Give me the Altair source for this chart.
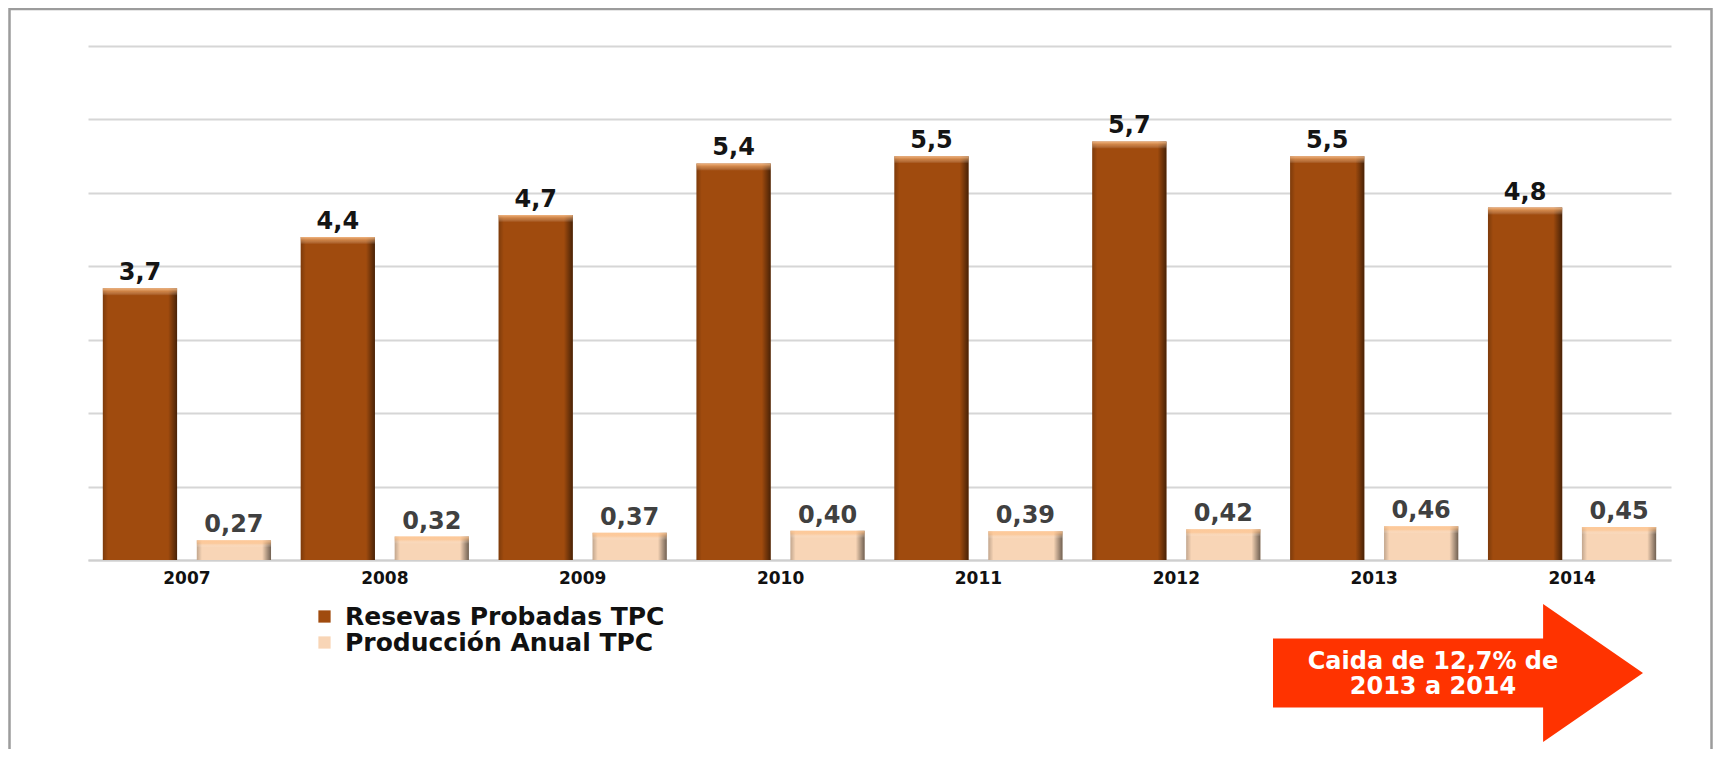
import altair as alt
import pandas as pd

# ---- data ----
years = ["2007", "2008", "2009", "2010", "2011", "2012", "2013", "2014"]
reservas = [3.7, 4.4, 4.7, 5.4, 5.5, 5.7, 5.5, 4.8]
produccion = [0.27, 0.32, 0.37, 0.40, 0.39, 0.42, 0.46, 0.45]
series_names = ["Resevas Probadas TPC", "Producción Anual TPC"]
y_ticks = [0, 1, 2, 3, 4, 5, 6, 7]
annotation_lines = ["Caida de 12,7% de", "2013 a 2014"]

rows = []
for yr, r, p in zip(years, reservas, produccion):
    rows.append({"year": yr, "series": series_names[0], "value": r,
                 "label": f"{r:.1f}".replace(".", ",")})
    rows.append({"year": yr, "series": series_names[1], "value": p,
                 "label": f"{p:.2f}".replace(".", ",")})
df = pd.DataFrame(rows)

FONT = "DejaVu Sans"

x_enc = alt.X(
    "year:N",
    sort=years,
    scale=alt.Scale(paddingInner=0.15, paddingOuter=0.075),
    axis=alt.Axis(
        title=None, labelAngle=0, labelFont=FONT, labelFontWeight="bold",
        labelFontSize=17, labelColor="#111111", labelPadding=10,
        ticks=False, domainColor="#CFCFCF", domainWidth=2,
    ),
)
xoff_enc = alt.XOffset(
    "series:N",
    sort=series_names,
    scale=alt.Scale(domain=series_names, paddingInner=0.21, paddingOuter=0),
)
y_enc = alt.Y(
    "value:Q",
    scale=alt.Scale(domain=[0, 7], nice=False, zero=True),
    axis=alt.Axis(
        title=None, labels=False, ticks=False, domain=False, values=y_ticks,
        gridColor="#D6D6D6", gridWidth=2,
    ),
)

base = alt.Chart(df)

bars = base.mark_bar().encode(
    x=x_enc,
    xOffset=xoff_enc,
    y=y_enc,
    color=alt.Color(
        "series:N",
        sort=series_names,
        scale=alt.Scale(domain=series_names, range=["#A04B0E", "#F8D5B6"]),
        legend=alt.Legend(
            title=None, orient="none", legendX=224, legendY=558,
            direction="vertical", symbolType="square", symbolSize=150,
            symbolStrokeWidth=0, labelFont=FONT, labelFontWeight="bold",
            labelFontSize=25, labelColor="#111111", rowPadding=0,
            labelOffset=8, padding=0, labelLimit=700,
        ),
    ),
)

shade = base.mark_bar(
    color=alt.LinearGradient(
        gradient="linear", x1=0, x2=1, y1=0, y2=0,
        stops=[
            alt.GradientStop(color="rgba(0,0,0,0.22)", offset=0),
            alt.GradientStop(color="rgba(0,0,0,0)", offset=0.07),
            alt.GradientStop(color="rgba(0,0,0,0)", offset=0.88),
            alt.GradientStop(color="rgba(0,0,0,0.55)", offset=1),
        ],
    )
).encode(x=x_enc, xOffset=xoff_enc, y=y_enc)

cap = base.transform_calculate(
    capbottom="datum.value - 0.1"
).mark_bar(
    color=alt.LinearGradient(
        gradient="linear", x1=0, x2=0, y1=0, y2=1,
        stops=[
            alt.GradientStop(color="rgba(255,200,150,0.85)", offset=0),
            alt.GradientStop(color="rgba(255,190,130,0.45)", offset=0.45),
            alt.GradientStop(color="rgba(255,255,255,0)", offset=1),
        ],
    )
).encode(x=x_enc, xOffset=xoff_enc, y="value:Q", y2="capbottom:Q")

labels = base.mark_text(
    baseline="alphabetic", dy=-8, font=FONT, fontWeight="bold", fontSize=24,
).encode(
    x=x_enc,
    xOffset=xoff_enc,
    y=y_enc,
    text="label:N",
    color=alt.condition(
        alt.datum.series == series_names[0],
        alt.value("#141414"),
        alt.value("#404040"),
    ),
)

one = pd.DataFrame({"k": [0]})

frame = alt.Chart(one).mark_rect(
    fill="transparent", stroke="#9C9C9C", strokeWidth=2.5
).encode(
    x=alt.value(-78.5), x2=alt.value(1623.5),
    y=alt.value(-37), y2=alt.value(800),
)

ARROW_PATH = ("M -1 -0.187 L 0.46 -0.187 L 0.46 -0.373 L 1 0 "
              "L 0.46 0.373 L 0.46 0.187 L -1 0.187 Z")
arrow = alt.Chart(one).mark_point(
    shape=ARROW_PATH, filled=True, fill="#FF3300", stroke=None,
    opacity=1, strokeWidth=0,
).encode(
    x=alt.value(1370), y=alt.value(627), size=alt.value(370 * 370),
)

arrow_text = alt.Chart(one).mark_text(
    text=annotation_lines, font=FONT, fontWeight="bold", fontSize=24,
    color="white", align="center", baseline="middle", lineHeight=25,
).encode(x=alt.value(1345), y=alt.value(616))

chart = alt.layer(
    bars, shade, cap, labels, frame, arrow, arrow_text
).properties(
    width=1583,
    height=514,
    autosize=alt.AutoSizeParams(type="none"),
    padding={"left": 80, "top": 38, "right": 42, "bottom": 189},
    background="white",
).configure_view(stroke=None)

chart.save("out.html", embed_options={"renderer": "svg", "actions": False})
